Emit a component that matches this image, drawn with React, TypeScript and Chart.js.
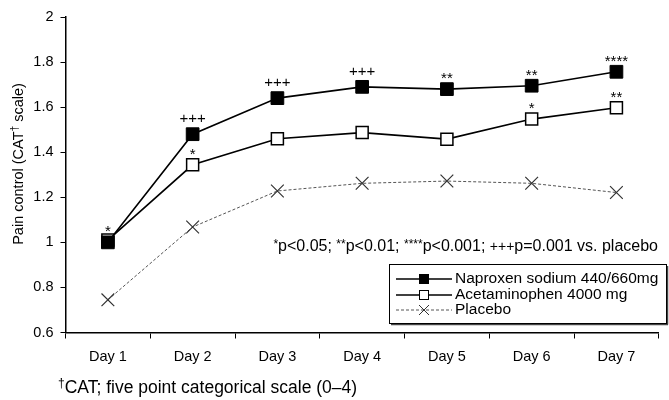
import React, { useEffect, useRef } from "react";
import { Chart, registerables } from "chart.js";

Chart.register(...registerables);

const days = ["Day 1", "Day 2", "Day 3", "Day 4", "Day 5", "Day 6", "Day 7"];
const naproxen = [1.0, 1.48, 1.64, 1.69, 1.68, 1.695, 1.757];
const acetaminophen = [1.01, 1.344, 1.46, 1.487, 1.458, 1.547, 1.597];
const placebo = [0.745, 1.068, 1.228, 1.262, 1.272, 1.262, 1.221];
const naproxenSig = ["*", "+++", "+++", "+++", "**", "**", "****"];
const acetSig = ["", "*", "", "", "", "*", "**"];
const yTicks = [0.6, 0.8, 1, 1.2, 1.4, 1.6, 1.8, 2];
const seriesNames = ["Naproxen sodium 440/660mg", "Acetaminophen 4000 mg", "Placebo"];
const noteText = "*p<0.05; **p<0.01; ****p<0.001; +++p=0.001 vs. placebo";
const footnote = "CAT; five point categorical scale (0\u20134)";
const yTitle = ["Pain control (CAT", "\u2020", " scale)"];

const FONT = "'Liberation Sans', Arial, Helvetica, sans-serif";

const overlay = {
  id: "overlay",
  afterDatasetsDraw(chart: any) {
    const ctx = chart.ctx as CanvasRenderingContext2D;
    ctx.save();
    ctx.fillStyle = "#000";
    ctx.textAlign = "center";
    ctx.textBaseline = "alphabetic";
    const sigs = [naproxenSig, acetSig];
    sigs.forEach((arr, di) => {
      const meta = chart.getDatasetMeta(di);
      arr.forEach((s, i) => {
        if (!s) return;
        const p = meta.data[i];
        ctx.font = `15px ${FONT}`;
        if (s.startsWith("+")) {
          ctx.fillText(s, p.x, p.y - 11);
        } else {
          ctx.fillText(s, p.x, p.y - 6);
        }
      });
    });

    // significance note (right aligned)
    const segs: { t: string; kind: string }[] = [];
    noteText.split(/(\*+|\+\+\+)/).forEach((t) => {
      if (!t) return;
      segs.push({ t, kind: /^\*+$/.test(t) ? "star" : t === "+++" ? "plus" : "main" });
    });
    const fontFor = (k: string) =>
      k === "star" ? `12px ${FONT}` : k === "plus" ? `14px ${FONT}` : `16px ${FONT}`;
    let total = 0;
    segs.forEach((s) => {
      ctx.font = fontFor(s.kind);
      total += ctx.measureText(s.t).width;
    });
    let x = 658 - total;
    const by = 251;
    ctx.textAlign = "left";
    segs.forEach((s) => {
      ctx.font = fontFor(s.kind);
      ctx.fillText(s.t, x, s.kind === "star" ? by - 3 : by);
      x += ctx.measureText(s.t).width;
    });

    // legend box with slight shadow
    ctx.setLineDash([]);
    ctx.strokeStyle = "#444";
    ctx.lineWidth = 1.5;
    ctx.beginPath();
    ctx.moveTo(391, 324.5);
    ctx.lineTo(668, 324.5);
    ctx.moveTo(667.5, 266);
    ctx.lineTo(667.5, 324.5);
    ctx.stroke();
    ctx.lineWidth = 1;
    ctx.strokeStyle = "#000";
    ctx.strokeRect(389.5, 264.5, 277, 59);
    const ly = [279, 295, 310];
    ly.forEach((yy, i) => {
      const ds = chart.data.datasets[i];
      ctx.save();
      ctx.strokeStyle = ds.borderColor;
      ctx.lineWidth = ds.borderWidth;
      ctx.setLineDash(ds.borderDash || []);
      ctx.beginPath();
      ctx.moveTo(396, yy);
      ctx.lineTo(452, yy);
      ctx.stroke();
      ctx.restore();
      ctx.save();
      const mx = 424;
      if (i === 0) {
        ctx.fillStyle = "#000";
        ctx.fillRect(mx - 5, yy - 5, 10, 10);
      } else if (i === 1) {
        ctx.fillStyle = "#fff";
        ctx.strokeStyle = "#000";
        ctx.lineWidth = 1;
        ctx.fillRect(mx - 5, yy - 5, 10, 10);
        ctx.strokeRect(mx - 4.5, yy - 4.5, 9, 9);
      } else {
        ctx.strokeStyle = "#333";
        ctx.lineWidth = 1;
        ctx.beginPath();
        ctx.moveTo(mx - 5, yy - 5);
        ctx.lineTo(mx + 5, yy + 5);
        ctx.moveTo(mx + 5, yy - 5);
        ctx.lineTo(mx - 5, yy + 5);
        ctx.stroke();
      }
      ctx.restore();
      ctx.font = `15.5px ${FONT}`;
      ctx.fillStyle = "#000";
      ctx.textAlign = "left";
      ctx.textBaseline = "middle";
      ctx.fillText(seriesNames[i], 455, yy);
    });

    // footnote
    ctx.textBaseline = "alphabetic";
    ctx.textAlign = "left";
    ctx.font = `12px ${FONT}`;
    ctx.fillText("\u2020", 58, 387);
    const dw = ctx.measureText("\u2020").width;
    ctx.font = `17.5px ${FONT}`;
    ctx.fillText(footnote, 58 + dw, 393);

    // y title
    ctx.save();
    ctx.translate(23, 164);
    ctx.rotate(-Math.PI / 2);
    ctx.font = `14.5px ${FONT}`;
    const w0 = ctx.measureText(yTitle[0]).width;
    const w2 = ctx.measureText(yTitle[2]).width;
    ctx.font = `10px ${FONT}`;
    const w1 = ctx.measureText(yTitle[1]).width;
    let tx = -(w0 + w1 + w2) / 2;
    ctx.font = `14.5px ${FONT}`;
    ctx.fillText(yTitle[0], tx, 0);
    tx += w0;
    ctx.font = `10px ${FONT}`;
    ctx.fillText(yTitle[1], tx, -5);
    tx += w1;
    ctx.font = `14.5px ${FONT}`;
    ctx.fillText(yTitle[2], tx, 0);
    ctx.restore();

    ctx.restore();
  },
};

export default function App() {
  const ref = useRef<HTMLCanvasElement>(null);
  useEffect(() => {
    document.body.style.margin = "0";
    const chart = new Chart(ref.current!, {
      type: "line",
      data: {
        labels: days,
        datasets: [
          {
            label: seriesNames[0],
            data: naproxen,
            borderColor: "#000",
            borderWidth: 1.6,
            backgroundColor: "#000",
            pointStyle: "rect",
            pointRadius: 9,
            pointBorderColor: "#000",
            pointBackgroundColor: "#000",
            pointBorderWidth: 1,
          },
          {
            label: seriesNames[1],
            data: acetaminophen,
            borderColor: "#000",
            borderWidth: 1.6,
            backgroundColor: "#fff",
            pointStyle: "rect",
            pointRadius: 8.5,
            pointBorderColor: "#000",
            pointBackgroundColor: "#fff",
            pointBorderWidth: 1.5,
          },
          {
            label: seriesNames[2],
            data: placebo,
            borderColor: "#555",
            borderWidth: 1,
            borderDash: [3, 2],
            pointStyle: "crossRot",
            pointRadius: 9,
            pointBorderColor: "#333",
            pointBorderWidth: 1.2,
          },
        ],
      },
      options: {
        responsive: false,
        animation: false,
        layout: { padding: { left: 0, right: 1, top: 17, bottom: 0 } },
        plugins: {
          legend: { display: false },
          tooltip: { enabled: false },
        },
        scales: {
          x: {
            type: "category",
            offset: true,
            grid: {
              offset: true,
              drawOnChartArea: false,
              drawTicks: true,
              tickLength: 6,
              color: "#000",
            },
            border: { color: "#000", width: 1.5 },
            ticks: {
              color: "#000",
              font: { family: FONT, size: 14.5 },
              padding: 10,
              maxRotation: 0,
            },
            afterFit(scale: any) {
              scale.height = 67.5;
            },
          },
          y: {
            min: 0.6,
            max: 2,
            afterBuildTicks(scale: any) {
              scale.ticks = yTicks.map((v) => ({ value: v }));
            },
            grid: {
              drawOnChartArea: false,
              drawTicks: true,
              tickLength: 5,
              color: "#000",
            },
            border: { color: "#000", width: 1.5 },
            ticks: {
              color: "#000",
              font: { family: FONT, size: 14.5 },
              padding: 7,
              callback: (v: any) => String(Number(Number(v).toFixed(1))),
            },
            afterFit(scale: any) {
              scale.width = 65.5;
            },
          },
        },
      },
      plugins: [overlay],
    });
    return () => chart.destroy();
  }, []);
  return <canvas ref={ref} width={669} height={400} style={{ display: "block" }} />;
}
